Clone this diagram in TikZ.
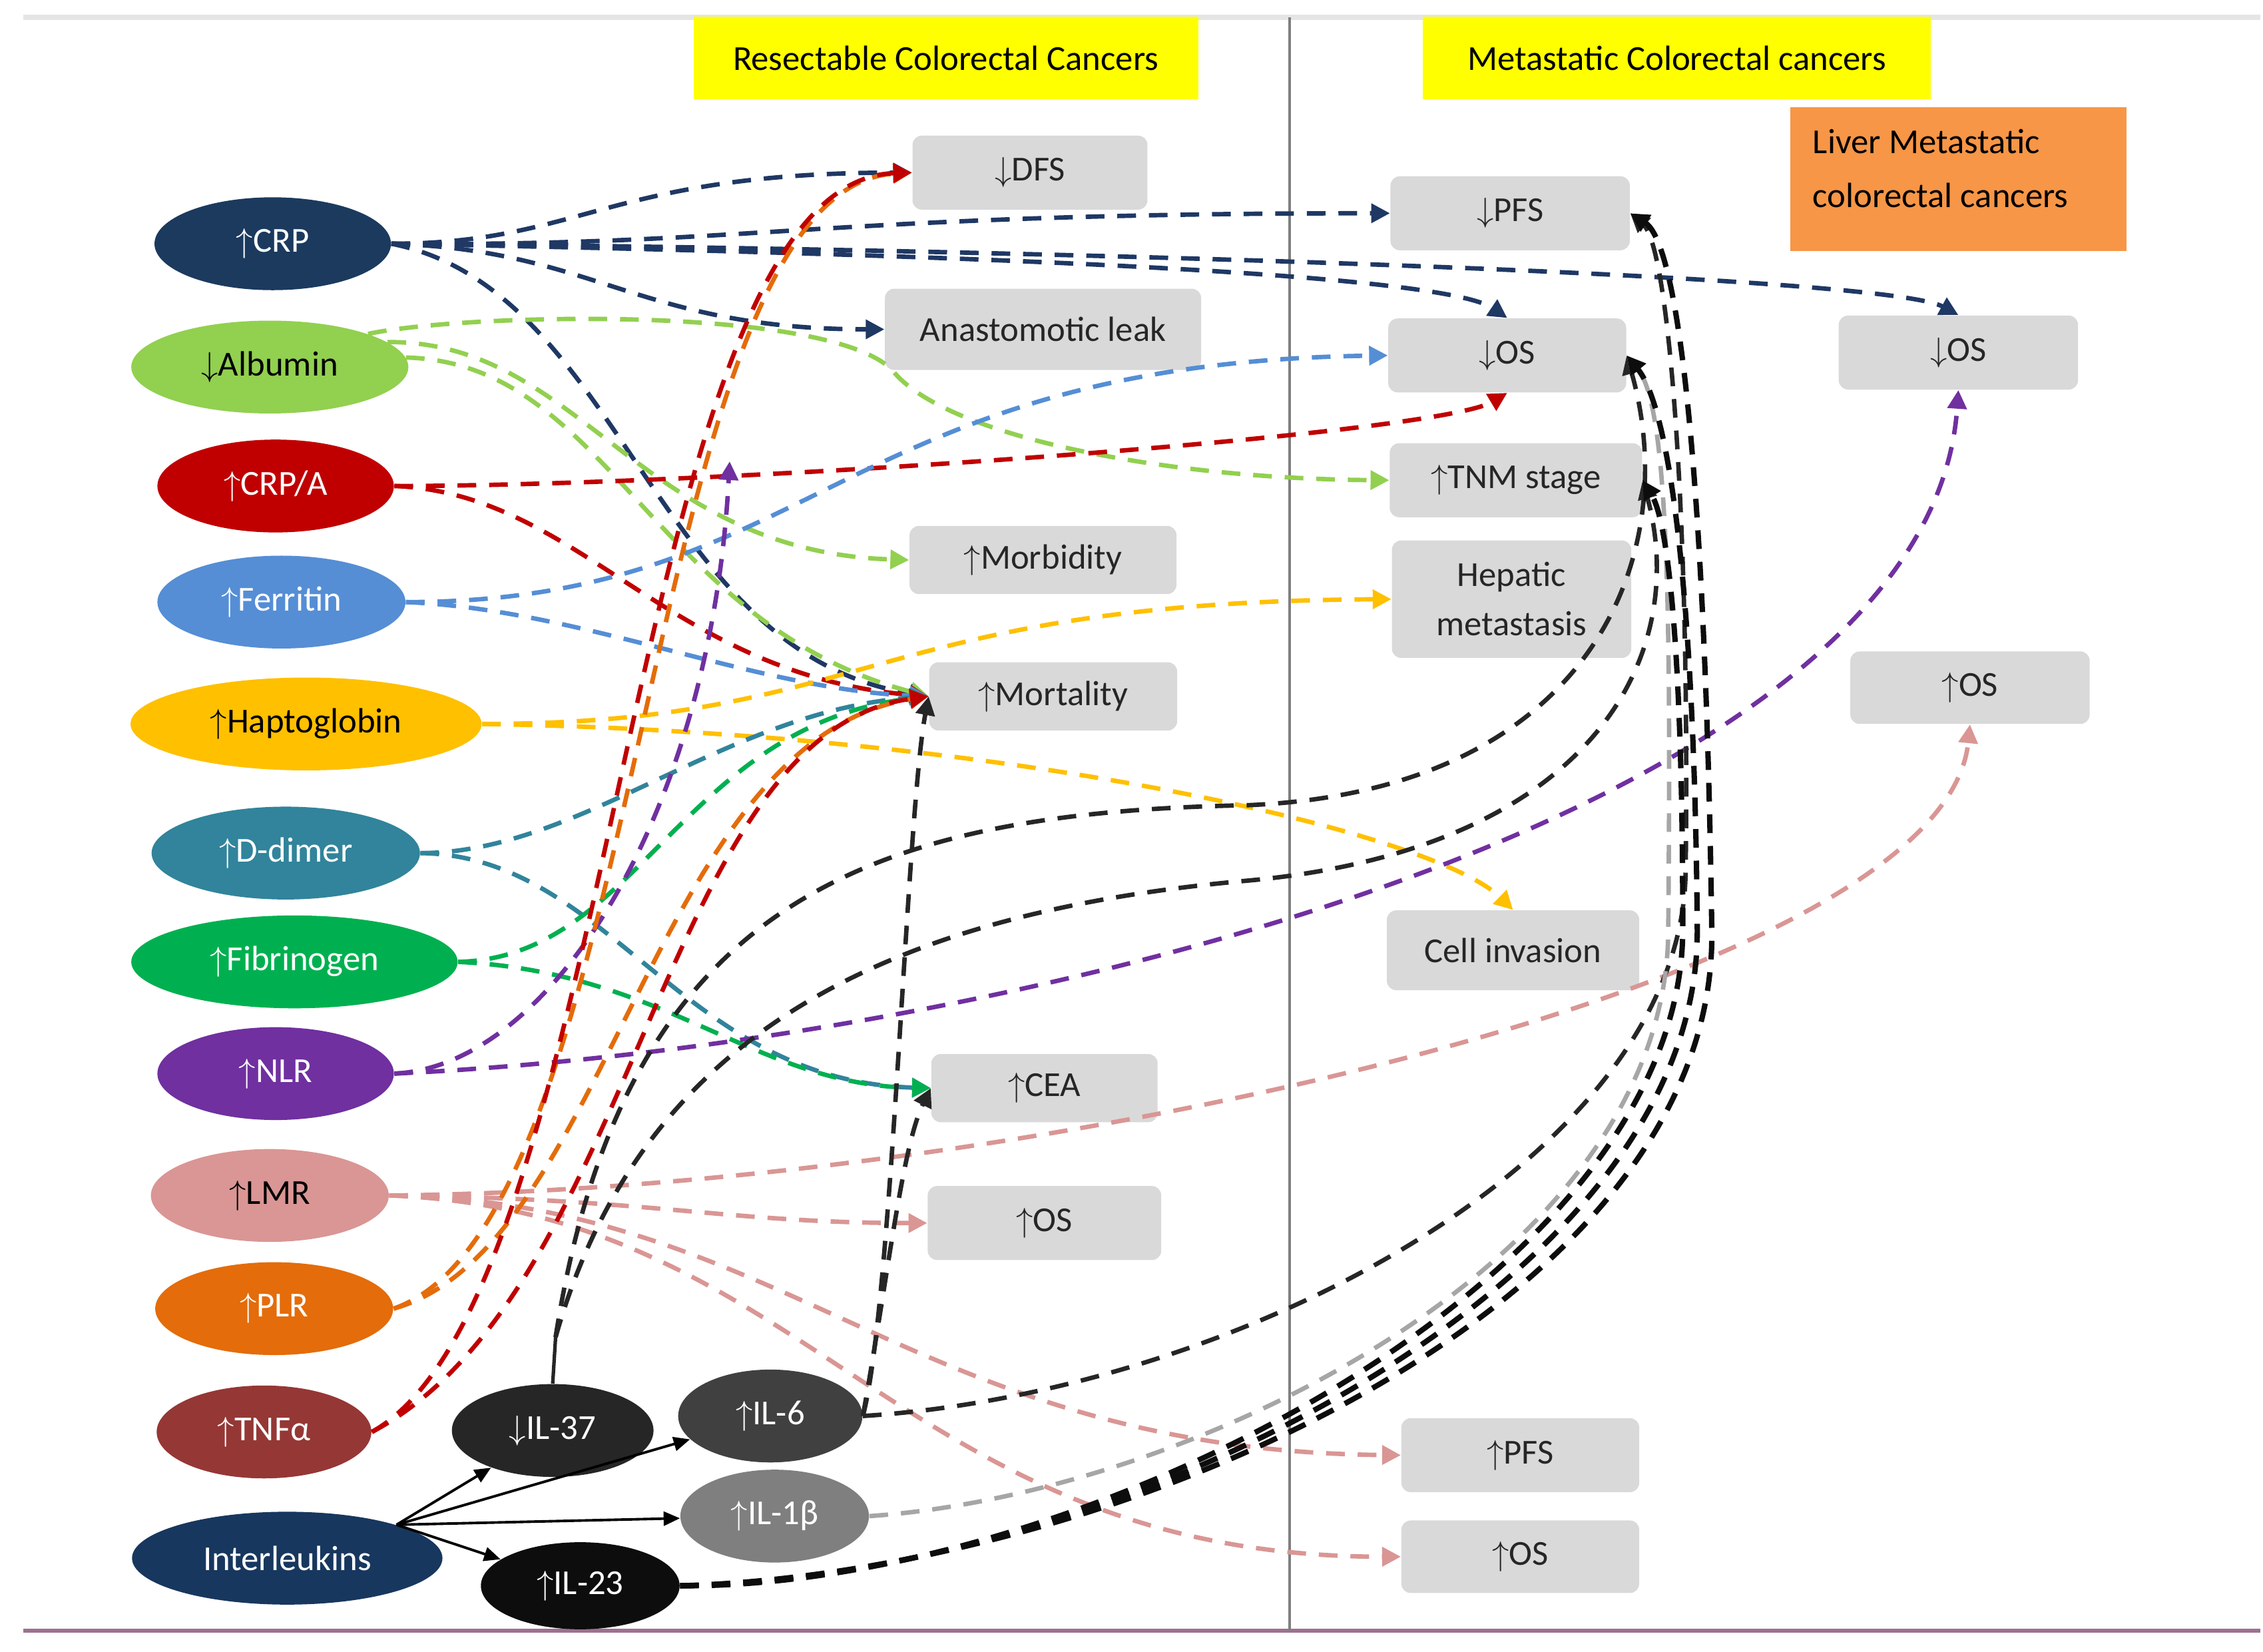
\documentclass[tikz,border=0pt]{standalone}
\usepackage{fontspec}
\setmainfont{Carlito}
\usetikzlibrary{shapes.geometric,arrows.meta}

\definecolor{cnavy}{HTML}{1B3A5E}
\definecolor{clnavy}{HTML}{1F3864}
\definecolor{cgreenl}{HTML}{92D050}
\definecolor{cred}{HTML}{C00000}
\definecolor{cblue}{HTML}{558ED5}
\definecolor{cgold}{HTML}{FFC000}
\definecolor{cteal}{HTML}{31849B}
\definecolor{cgreen}{HTML}{00B050}
\definecolor{cpurple}{HTML}{7030A0}
\definecolor{cpink}{HTML}{D99694}
\definecolor{corange}{HTML}{E46C0A}
\definecolor{cbrown}{HTML}{953735}
\definecolor{cil}{HTML}{17375E}
\definecolor{cdark}{HTML}{262626}
\definecolor{cmid}{HTML}{404040}
\definecolor{cgrey}{HTML}{7F7F7F}
\definecolor{cgreyl}{HTML}{A6A6A6}
\definecolor{cblack}{HTML}{0D0D0D}
\definecolor{cbox}{HTML}{D9D9D9}
\definecolor{cyel}{HTML}{FFFF00}
\definecolor{corbox}{HTML}{F79646}
\definecolor{cmauve}{HTML}{9E7090}

\newcommand\dpx{0.2179mm}
\newcommand\upa{$\uparrow$}
\newcommand\dna{$\downarrow$}

\begin{document}
\begin{tikzpicture}[x=\dpx,y=-\dpx,
    every node/.style={font=\fontsize{15}{18}\selectfont},
    bio/.style={ellipse,fill=#1,inner sep=0pt,text=white,minimum height=64*\dpx},
    resbox/.style={rectangle,rounded corners=4pt,fill=cbox,inner sep=0pt,
      minimum width=164*\dpx,minimum height=51*\dpx,text=cdark},
    headbox/.style={rectangle,fill=cyel,inner sep=0pt,minimum height=57*\dpx},
    lnk/.style={draw=#1,line width=1.9pt,dash pattern=on 8pt off 5.5pt,
      -{Triangle[length=8pt,width=8pt]}},
    ilk/.style={draw=black,line width=1.1pt,-{Triangle[length=7pt,width=6pt]}}]
    \useasboundingbox (0,0) rectangle (1560,1138.6);

    % frame lines
    \draw[line width=2.2pt,draw=black!10] (16,12) -- (1558,12);
    \draw[line width=1.8pt,draw=cmauve] (16,1124) -- (1558,1124);
    \draw[line width=0.9pt,draw=cgrey] (889,12) -- (889,1124);

    % headers
    \node[headbox,minimum width=348*\dpx] (resect) at (652,40) {Resectable Colorectal Cancers};
    \node[headbox,minimum width=350*\dpx] (metas) at (1156,40) {Metastatic Colorectal cancers};
    \node[rectangle,fill=corbox,minimum width=232*\dpx,minimum height=99*\dpx] (liver) at (1350,123.5) {};
    \node[anchor=west,align=left,font=\fontsize{15}{23}\selectfont] (livertxt) at (1244,116)
      {Liver Metastatic\\colorectal cancers};

    % markers
    \node[bio=cnavy,minimum width=163*\dpx] (crp) at (188,168) {\upa CRP};
    \node[bio=cgreenl,text=black,minimum width=191*\dpx] (alb) at (186,253) {\dna Albumin};
    \node[bio=cred,minimum width=163*\dpx] (crpa) at (190,335) {\upa CRP/A};
    \node[bio=cblue,minimum width=171*\dpx] (fer) at (194,415) {\upa Ferritin};
    \node[bio=cgold,text=black,minimum width=242*\dpx] (hap) at (211,499) {\upa Haptoglobin};
    \node[bio=cteal,minimum width=185*\dpx] (ddim) at (197,588) {\upa D-dimer};
    \node[bio=cgreen,minimum width=225*\dpx] (fib) at (203,663) {\upa Fibrinogen};
    \node[bio=cpurple,minimum width=163*\dpx] (nlr) at (190,740) {\upa NLR};
    \node[bio=cpink,text=black,minimum width=164*\dpx] (lmr) at (186,824) {\upa LMR};
    \node[bio=corange,minimum width=164*\dpx] (plr) at (189,902) {\upa PLR};
    \node[bio=cbrown,minimum width=148*\dpx] (tnf) at (182,987) {\upa TNFα};
    \node[bio=cil,minimum width=214*\dpx] (il) at (198,1074) {Interleukins};
    \node[bio=cdark,minimum width=139*\dpx] (il37) at (381,986) {\dna IL-37};
    \node[bio=cmid,minimum width=127*\dpx] (il6) at (531,976) {\upa IL-6};
    \node[bio=cgrey,minimum width=130*\dpx] (il1b) at (534,1045) {\upa IL-1β};
    \node[bio=cblack,minimum width=137*\dpx,minimum height=60*\dpx] (il23) at (400,1093) {\upa IL-23};

    % outcomes
    \node[resbox,minimum width=162*\dpx] (dfs) at (710,119) {\dna DFS};
    \node[resbox,minimum width=218*\dpx,minimum height=56*\dpx] (leak) at (719,227) {Anastomotic leak};
    \node[resbox,minimum width=184*\dpx,minimum height=47*\dpx] (morb) at (719,386) {\upa Morbidity};
    \node[resbox,minimum width=171*\dpx,minimum height=47*\dpx] (mort) at (726,480) {\upa Mortality};
    \node[resbox,minimum width=156*\dpx,minimum height=47*\dpx] (cea) at (720,750) {\upa CEA};
    \node[resbox,minimum width=161*\dpx] (osA) at (720,843) {\upa OS};
    \node[resbox,minimum width=165*\dpx] (pfsM) at (1041,147) {\dna PFS};
    \node[resbox] (osM) at (1039,245) {\dna OS};
    \node[resbox,minimum width=174*\dpx] (tnm) at (1045,331) {\upa TNM stage};
    \node[resbox,minimum width=165*\dpx,minimum height=81*\dpx,align=center,
      font=\fontsize{15}{21}\selectfont] (hep) at (1042,413) {Hepatic\\metastasis};
    \node[resbox,minimum width=174*\dpx,minimum height=55*\dpx] (cell) at (1043,655) {Cell invasion};
    \node[resbox] (pfsB) at (1048,1003) {\upa PFS};
    \node[resbox,minimum height=50*\dpx] (osB) at (1048,1073) {\upa OS};
    \node[resbox,minimum width=165*\dpx] (osL) at (1350,243) {\dna OS};
    \node[resbox,minimum width=165*\dpx,minimum height=50*\dpx] (osL2) at (1358,474) {\upa OS};

    % CRP
    \draw[lnk=clnavy] (crp.east) .. controls (400,168) and (420,119) .. (dfs.west);
    \draw[lnk=clnavy] (crp.east) .. controls (520,170) and (560,147) .. (pfsM.west);
    \draw[lnk=clnavy] (crp.east) .. controls (600,174) and (990,186) .. (osM.north);
    \draw[lnk=clnavy] (crp.east) .. controls (750,172) and (1300,190) .. (osL.north);
    \draw[lnk=clnavy] (crp.east) .. controls (410,172) and (440,227) .. (leak.west);
    \draw[lnk=clnavy] (crp.east) .. controls (430,200) and (450,450) .. (mort.west);
    % Albumin
    \draw[lnk=cgreenl] (alb.north east) .. controls (320,216) and (570,210) .. (615,255)
      .. controls (650,300) and (800,330) .. (tnm.west);
    \draw[lnk=cgreenl] (alb.12) .. controls (400,235) and (440,380) .. (morb.west);
    \draw[lnk=cgreenl] (alb.4) .. controls (420,250) and (450,430) .. (mort.west);
    % CRP/A
    \draw[lnk=cred] (crpa.east) .. controls (500,335) and (990,300) .. (osM.south);
    \draw[lnk=cred] (crpa.east) .. controls (400,340) and (460,465) .. (mort.west);
    % Ferritin
    \draw[lnk=cblue] (fer.east) .. controls (560,415) and (580,250) .. (osM.west);
    \draw[lnk=cblue] (fer.east) .. controls (400,420) and (520,475) .. (mort.west);
    % Haptoglobin
    \draw[lnk=cgold] (hap.east) .. controls (600,499) and (600,415) .. (hep.west);
    \draw[lnk=cgold] (hap.east) .. controls (700,505) and (990,575) .. (cell.north);
    % D-dimer
    \draw[lnk=cteal] (ddim.east) .. controls (400,588) and (500,490) .. (mort.west);
    \draw[lnk=cteal] (ddim.east) .. controls (420,590) and (470,745) .. (cea.west);
    % Fibrinogen
    \draw[lnk=cgreen] (fib.east) .. controls (440,660) and (470,500) .. (mort.west);
    \draw[lnk=cgreen] (fib.east) .. controls (460,670) and (520,748) .. (cea.west);
    % NLR
    \coordinate (nlrtip) at (503,318);
    \draw[lnk=cpurple] (nlr.east) .. controls (380,735) and (490,560) .. (nlrtip);
    \draw[lnk=cpurple] (nlr.east) .. controls (700,720) and (1330,560) .. (osL.south);
    % LMR
    \draw[lnk=cpink] (lmr.east) .. controls (700,820) and (1340,680) .. (osL2.south);
    \draw[lnk=cpink] (lmr.east) .. controls (450,826) and (500,843) .. (osA.west);
    \draw[lnk=cpink] (lmr.east) .. controls (540,828) and (630,1000) .. (pfsB.west);
    \draw[lnk=cpink] (lmr.east) .. controls (560,835) and (620,1073) .. (osB.west);
    % PLR
    \draw[lnk=corange] (plr.east) .. controls (450,840) and (440,130) .. (dfs.west);
    \draw[lnk=corange] (plr.east) .. controls (420,860) and (450,510) .. (mort.west);
    % TNF
    \draw[lnk=cred] (tnf.east) .. controls (430,890) and (430,125) .. (dfs.west);
    \draw[lnk=cred] (tnf.east) .. controls (440,890) and (455,505) .. (mort.west);

    % interleukins
    \draw[ilk] (il.17) -- (il37);
    \draw[ilk] (il.17) -- (il6);
    \draw[ilk] (il.17) -- (il1b);
    \draw[ilk] (il.17) -- (il23);
    \draw[line width=1.5pt,draw=cdark] (il37.north) -- ++(2,-32) coordinate (il37top);
    \draw[lnk=cdark] (il37top) .. controls (430,620) and (600,560) .. (860,555)
      .. controls (1100,545) and (1160,380) .. (osM.east);
    \draw[lnk=cdark] (il37top) .. controls (440,720) and (600,630) .. (860,607)
      .. controls (1100,585) and (1165,450) .. (tnm.east);
    \draw[lnk=cdark] (il6.east) .. controls (615,900) and (625,560) .. (mort.west);
    \draw[lnk=cdark] (il6.east) .. controls (612,880) and (622,790) .. (cea.west);
    \draw[lnk=cdark] (il6.east) .. controls (850,960) and (1160,800) .. (1162,600)
      .. controls (1165,350) and (1150,170) .. (pfsM.east);
    \draw[lnk=cgreyl] (il1b.east) .. controls (820,1030) and (1150,870) .. (1150,640)
      .. controls (1152,420) and (1150,280) .. (osM.east);
    \draw[lnk=cblack,line width=2.3pt] (il23.east) .. controls (760,1085) and (1185,905) .. (1180,640)
      .. controls (1176,360) and (1160,170) .. (pfsM.east);
    \draw[lnk=cblack,line width=2.3pt] (il23.east) .. controls (750,1090) and (1172,895) .. (1170,640)
      .. controls (1168,400) and (1150,280) .. (osM.east);
    \draw[lnk=cblack,line width=2.3pt] (il23.east) .. controls (740,1095) and (1160,885) .. (1160,640)
      .. controls (1160,450) and (1150,360) .. (tnm.east);
\end{tikzpicture}
\end{document}
